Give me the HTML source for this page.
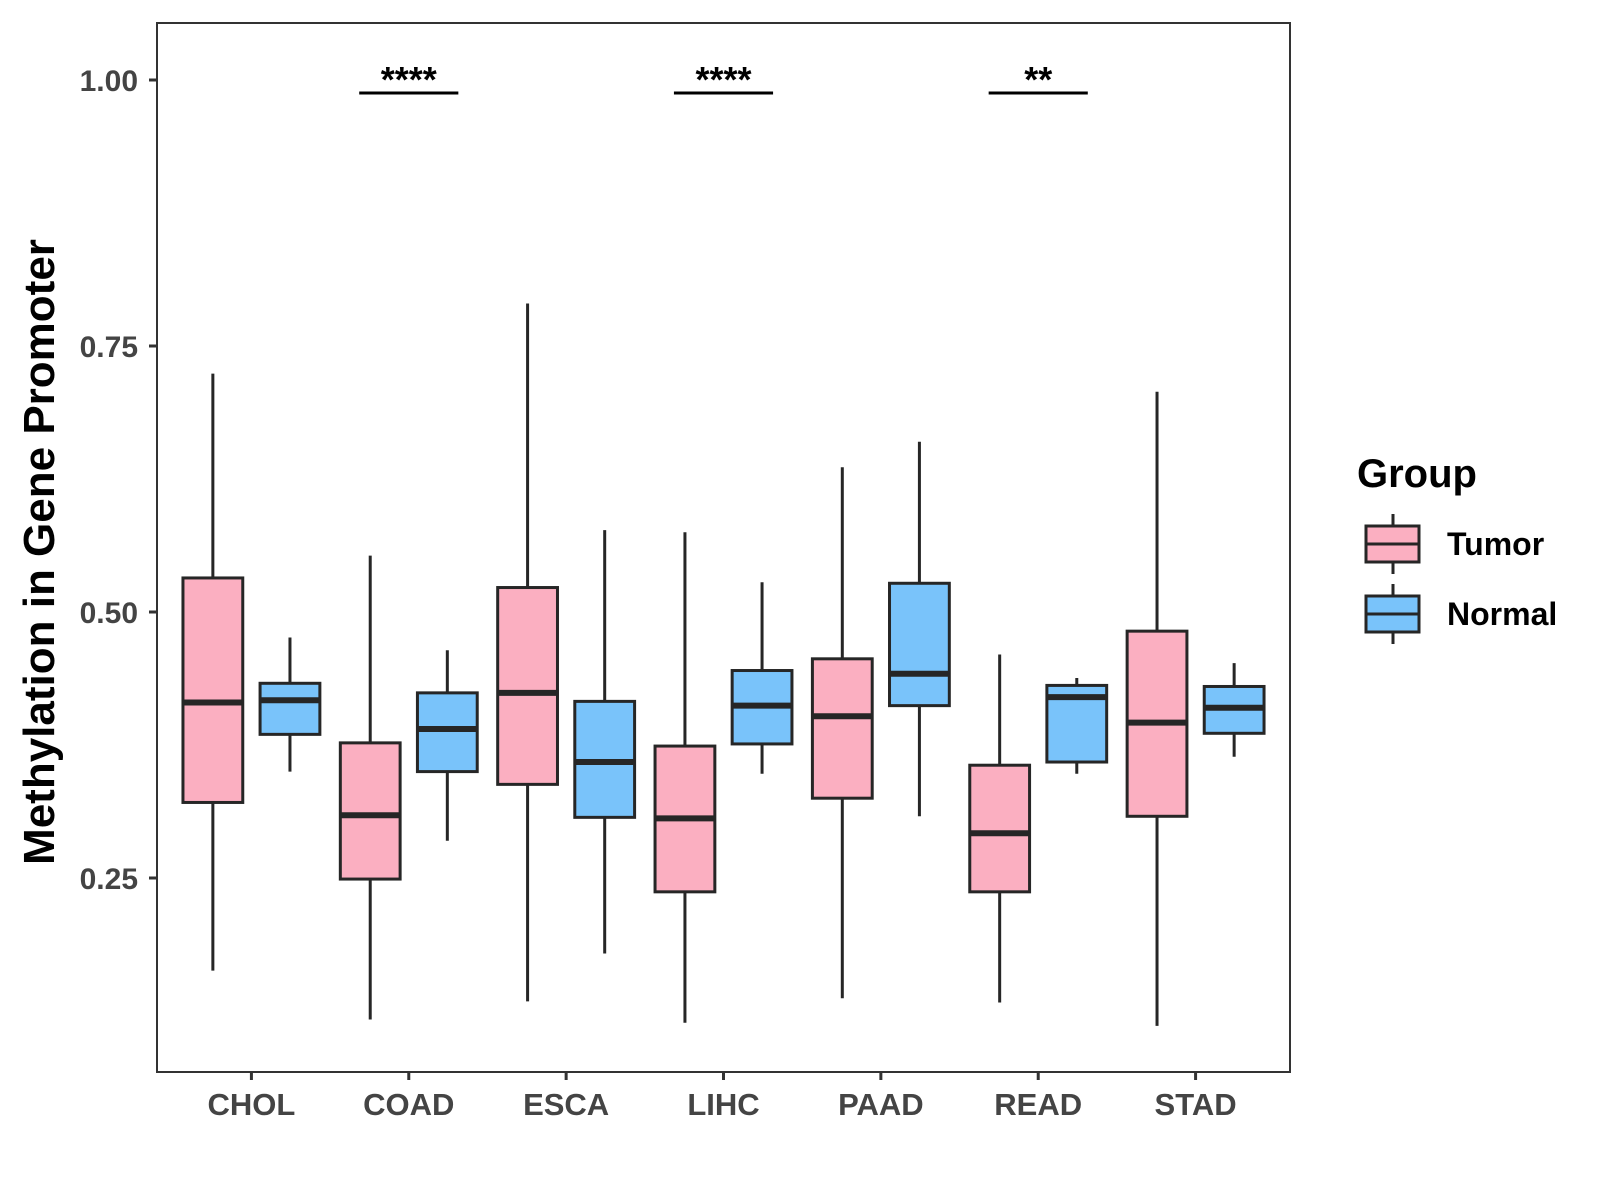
<!DOCTYPE html>
<html><head><meta charset="utf-8"><style>
html,body{margin:0;padding:0;background:#fff}
svg{display:block;font-family:"Liberation Sans",Arial,sans-serif;font-weight:bold}
</style></head><body>
<svg id="chart" width="1600" height="1200" viewBox="0 0 1600 1200" xmlns="http://www.w3.org/2000/svg">
<rect x="157" y="23" width="1133" height="1049" fill="#fff" stroke="#333" stroke-width="2"/>
<g id="marks"></g>
<text transform="translate(54,552) rotate(-90)" text-anchor="middle" font-size="44" fill="#000">Methylation in Gene Promoter</text>
<text x="1357" y="487" font-size="40" fill="#000">Group</text>
</svg>
<script>
const categories=["CHOL","COAD","ESCA","LIHC","PAAD","READ","STAD"];
const groups=["Tumor","Normal"];
const colors=["#FBAFC1","#79C3FA"];
// [lower whisker, Q1, median, Q3, upper whisker]
const tumorStats=[[0.163,0.321,0.415,0.532,0.724],[0.117,0.249,0.309,0.377,0.553],[0.134,0.338,0.424,0.523,0.790],[0.114,0.237,0.306,0.374,0.575],[0.137,0.325,0.402,0.456,0.636],[0.133,0.237,0.292,0.356,0.460],[0.111,0.308,0.396,0.482,0.707]];
const normalStats=[[0.350,0.385,0.417,0.433,0.476],[0.285,0.350,0.390,0.424,0.464],[0.179,0.307,0.359,0.416,0.577],[0.348,0.376,0.412,0.445,0.528],[0.308,0.412,0.442,0.527,0.660],[0.348,0.359,0.420,0.431,0.438],[0.364,0.386,0.410,0.430,0.452]];
const yTicks=[0.25,0.50,0.75,1.00];
const yTickLabels=["0.25","0.50","0.75","1.00"];
const sigCategories=["COAD","LIHC","READ"];
const sigLabels=["****","****","**"];

const NS="http://www.w3.org/2000/svg";
const svg=document.getElementById('chart');
const g=document.getElementById('marks');
const L=157,R=1290,unit=(R-L)/7.2;
function x(i){return L+unit*(0.6+i);}
function y(v){return 80+(1-v)*1064;}
function mk(tag,attrs,parent){const e=document.createElementNS(NS,tag);for(const k in attrs)e.setAttribute(k,attrs[k]);(parent||g).appendChild(e);return e;}

yTicks.forEach((t,i)=>{
  const tk=mk('line',{x1:149,x2:157,y1:y(t),y2:y(t),stroke:'#333','stroke-width':3});
  
  
  const lb=mk('text',{x:138,y:y(t)+11,'text-anchor':'end','font-size':30,fill:'#444'});
  lb.textContent=yTickLabels[i];
  
  
});
categories.forEach((c,i)=>{
  const tk=mk('line',{x1:x(i),x2:x(i),y1:1072,y2:1080,stroke:'#333','stroke-width':3});
  
  
  const lb=mk('text',{x:x(i),y:1115,'text-anchor':'middle','font-size':31,fill:'#444'});
  lb.textContent=c;
  
  
});
function box(cx,s,col,name){
  const w=unit*0.38;
  const grp=mk('g',{});
  
  
  mk('line',{x1:cx,x2:cx,y1:y(s[4]),y2:y(s[0]),stroke:'#262626','stroke-width':3},grp);
  mk('rect',{x:cx-w/2,y:y(s[3]),width:w,height:y(s[1])-y(s[3]),fill:col,stroke:'#262626','stroke-width':3},grp);
  mk('line',{x1:cx-w/2,x2:cx+w/2,y1:y(s[2]),y2:y(s[2]),stroke:'#262626','stroke-width':6},grp);
}
categories.forEach((c,i)=>{
  box(x(i)-unit*0.245,tumorStats[i],colors[0],'box-tumor-'+c.toLowerCase());
  box(x(i)+unit*0.245,normalStats[i],colors[1],'box-normal-'+c.toLowerCase());
});
sigCategories.forEach((c,j)=>{
  const i=categories.indexOf(c);
  const ln=mk('line',{x1:x(i)-unit*0.315,x2:x(i)+unit*0.315,y1:93,y2:93,stroke:'#000','stroke-width':3});
  
  
  const t=mk('text',{x:x(i),y:92,'text-anchor':'middle','font-size':36,fill:'#000'});
  t.textContent=sigLabels[j];
  
  
});
groups.forEach((gname,k)=>{
  const top=526+k*70, cx=1393;
  const lg=mk('g',{},svg);
  
  
  mk('line',{x1:cx,x2:cx,y1:top-12,y2:top+48,stroke:'#262626','stroke-width':3},lg);
  mk('rect',{x:1366,y:top,width:53,height:36,fill:colors[k],stroke:'#262626','stroke-width':3},lg);
  mk('line',{x1:1366,x2:1419,y1:top+18,y2:top+18,stroke:'#262626','stroke-width':3},lg);
  const t=mk('text',{x:1447,y:top+29,'font-size':32,fill:'#000'},lg);
  t.textContent=gname;
});
</script>
</body></html>
